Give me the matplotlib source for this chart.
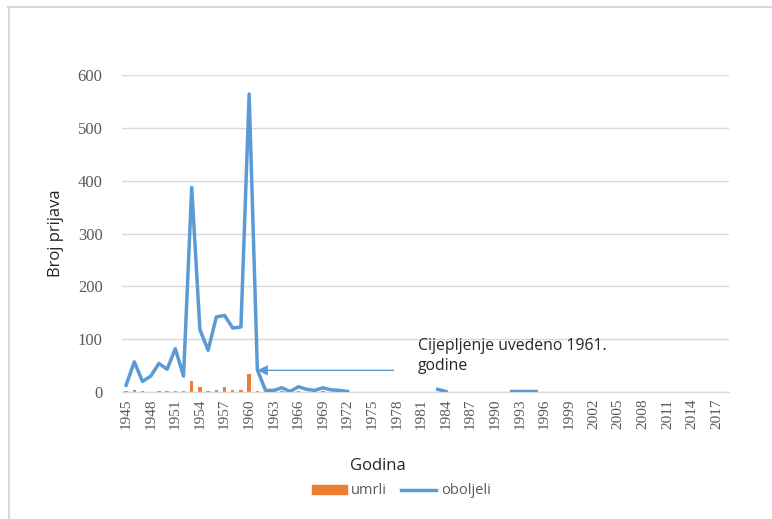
import numpy as np
import matplotlib
matplotlib.use("Agg")
import matplotlib.pyplot as plt
from matplotlib.lines import Line2D
from matplotlib.patches import Patch

years = list(range(1945, 2019))
N = np.nan
oboljeli = [13, 57, 20, 30, 54, 43, 82, 30, 387, 118, 79, 142, 145, 121, 123, 564,
            42, 3, 3, 8, 1, 10, 5, 3, 8, 4, 3, 1,
            N, N, N, N, N, N, N, N, N, N,
            5, 1,
            N, N, N, N, N, N, N,
            1, 1, 1, 1] + [N] * 23
umrli = [1, 3, 2, 0, 2, 2, 2, 2, 20, 9, 2, 4, 9, 3, 4, 34,
         1, 0, 0, 1, 0, 1, 0, 0, 1] + [0] * 49
tick_years = list(range(1945, 2019, 3))
yticks = [0, 100, 200, 300, 400, 500, 600]

BLUE = "#5B9BD5"
ORANGE = "#ED7D31"
GRID = "#D9D9D9"
TXT = "#595959"

fig = plt.figure(figsize=(7.72, 5.19), dpi=100)
ax = fig.add_axes([122/772, 1-392/519, (729-122)/772, (392-75)/519])

x = np.arange(len(years))
ax.bar(x, umrli, width=0.42, color=ORANGE, zorder=2)
ax.plot(x, oboljeli, color=BLUE, lw=2.5, zorder=3, solid_joinstyle="round")

ax.set_xlim(-0.5, len(years) - 0.5)
ax.set_ylim(0, 600)
ax.set_yticks(yticks)
ax.set_yticklabels([str(v) for v in yticks], family="Liberation Serif", fontsize=12, color=TXT)
tpos = [years.index(t) for t in tick_years]
ax.set_xticks(tpos)
ax.set_xticklabels([str(t) for t in tick_years], rotation=90, family="Liberation Serif",
                   fontsize=11, color=TXT)
ax.tick_params(length=0, pad=5)
ax.tick_params(axis="y", pad=14)
ax.grid(axis="y", color=GRID, lw=1, zorder=0)
for s in ["top", "right", "left"]:
    ax.spines[s].set_visible(False)
ax.spines["bottom"].set_color(GRID)
ax.spines["bottom"].set_linewidth(1)
ax.set_axisbelow(True)

ax.set_ylabel("Broj prijava", family="Open Sans", fontsize=12, color="#262626", labelpad=10)
fig.text(378/772, 1-466/519, "Godina", family="Open Sans", fontsize=12, color="#262626",
         ha="center", va="center")

# annotation arrow
i61 = years.index(1961)
ax.annotate("", xy=(i61, 41), xytext=(i61 + 16.6, 41),
            arrowprops=dict(arrowstyle="-|>,head_length=0.6,head_width=0.3",
                            color=BLUE, lw=1.0, shrinkA=0, shrinkB=0), zorder=4)
fig.text(418/772, 1-356/519, "Cijepljenje uvedeno 1961.\ngodine", family="Open Sans",
         fontsize=11.3, color="#262626", ha="left", va="center", linespacing=1.4)

handles = [Patch(color=ORANGE), Line2D([0], [0], color=BLUE, lw=2.5)]
leg = fig.legend(handles, ["umrli", "oboljeli"], loc="center", bbox_to_anchor=(401/772, 1-491/519),
                 ncol=2, frameon=False, handlelength=2.4, handleheight=0.55, columnspacing=1.0,
                 handletextpad=0.3, prop={"family": "Open Sans", "size": 10.5})
for t in leg.get_texts():
    t.set_color(TXT)

# outer frame lines
fig.add_artist(Line2D([8.5/772, 8.5/772], [0, 1-7/519], color=GRID, lw=1.5, transform=fig.transFigure))
fig.add_artist(Line2D([8/772, 1], [1-7/519, 1-7/519], color=GRID, lw=1.5, transform=fig.transFigure))

fig.savefig("out.png", dpi=100)
